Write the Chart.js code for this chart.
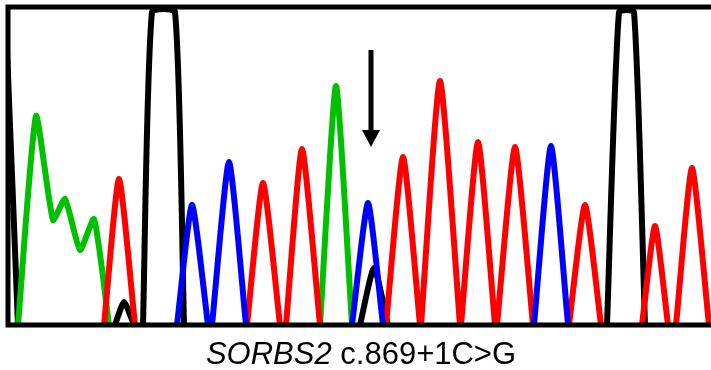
<!DOCTYPE html>
<html>
<head>
<meta charset="utf-8">
<script src="https://cdn.jsdelivr.net/npm/chart.js@4.4.0/dist/chart.umd.min.js"></script>
<style>
  html, body { margin: 0; padding: 0; background: #fff; }
  canvas { display: block; }
</style>
</head>
<body>
<canvas id="trace" width="711" height="370"></canvas>
<script>
// trace points: [position, signal], null = gap between peaks
const greenPts = [[18,0],[36,209],[53,105],[65,126],[80,75],[94,106],[109,0], null,
  [320,0],[336,239],[352,0]];
const blackPts = [[6,300],[18,0], null,
  [115,0],[124,23],[134,0], null,
  [143,0],[152,313],[175,313],[184,0], null,
  [360,0],[374,57],[388,0], null,
  [607,0],[619,313],[634,313],[645,0]];
const redPts = [[104,0],[119,146],[135,0], null,
  [247,0],[263,142],[280,0], null,
  [286,0],[302,176],[320,0], null,
  [386,0],[403,168],[420,0], null,
  [421,0],[440,244],[460,0], null,
  [461,0],[478,183],[495,0], null,
  [497,0],[515,178],[533,0], null,
  [569,0],[585,120],[601,0], null,
  [642,0],[655,99],[668,0], null,
  [676,0],[692,157],[709,0]];
const bluePts = [[177,0],[192,120],[208,0], null,
  [212,0],[229,163],[246,0], null,
  [352,0],[368,122],[383,0], null,
  [534,0],[551,179],[568,0]];

// arrow marking the variant: position, tail top, head start, tip, head half width
const arrow = { x: 371, top: 275, head: 195, tip: 178, half: 9 };
const captionGene = 'SORBS2';
const captionVar = ' c.869+1C>G';

const toXY = pts => pts.map(p => p ? { x: p[0], y: p[1] } : { x: null, y: null });

const trace = (pts, colour) => ({
  data: toXY(pts),
  borderColor: colour,
  borderWidth: 6,
  pointRadius: 0,
  tension: 0.18,
  spanGaps: false,
  borderJoinStyle: 'round',
  borderCapStyle: 'round',
  fill: false
});

const frameAndNotes = {
  id: 'frameAndNotes',
  afterDatasetsDraw(chart) {
    const { ctx, chartArea: a, scales: { x, y } } = chart;
    ctx.save();
    // box: top, left, bottom
    ctx.strokeStyle = '#000';
    ctx.lineWidth = 5;
    ctx.lineCap = 'square';
    ctx.beginPath();
    ctx.moveTo(a.right + 5, a.top);
    ctx.lineTo(a.left, a.top);
    ctx.lineTo(a.left, a.bottom);
    ctx.lineTo(a.right + 5, a.bottom);
    ctx.stroke();

    // arrow
    const ax = x.getPixelForValue(arrow.x);
    ctx.lineWidth = 5;
    ctx.lineCap = 'butt';
    ctx.beginPath();
    ctx.moveTo(ax, y.getPixelForValue(arrow.top));
    ctx.lineTo(ax, y.getPixelForValue(arrow.head) + 1);
    ctx.stroke();
    const hw = x.getPixelForValue(arrow.x + arrow.half) - ax;
    ctx.fillStyle = '#000';
    ctx.beginPath();
    ctx.moveTo(ax - hw, y.getPixelForValue(arrow.head));
    ctx.lineTo(ax + hw, y.getPixelForValue(arrow.head));
    ctx.lineTo(ax, y.getPixelForValue(arrow.tip));
    ctx.closePath();
    ctx.fill();

    // caption
    const fItal = 'italic 31px "Liberation Sans", Arial, sans-serif';
    const fNorm = '31px "Liberation Sans", Arial, sans-serif';
    ctx.font = fItal;
    const w1 = ctx.measureText(captionGene).width;
    ctx.font = fNorm;
    const w2 = ctx.measureText(captionVar).width;
    const cx = 361, by = 364;
    const sx = cx - (w1 + w2) / 2;
    ctx.textBaseline = 'alphabetic';
    ctx.textAlign = 'left';
    ctx.fillStyle = '#000';
    ctx.font = fItal;
    ctx.fillText(captionGene, sx, by);
    ctx.font = fNorm;
    ctx.fillText(captionVar, sx + w1, by);
    ctx.restore();
  }
};

new Chart(document.getElementById('trace'), {
  type: 'line',
  data: {
    datasets: [
      trace(bluePts, '#0000ff'),
      trace(redPts, '#ff0000'),
      trace(greenPts, '#00c000'),
      trace(blackPts, '#000000')
    ]
  },
  options: {
    responsive: false,
    animation: false,
    events: [],
    layout: { padding: { left: 8, top: 7, right: 0, bottom: 45 } },
    scales: {
      x: { type: 'linear', min: 8, max: 711, display: false },
      y: { type: 'linear', min: 0, max: 318, display: false }
    },
    plugins: { legend: { display: false }, tooltip: { enabled: false } }
  },
  plugins: [frameAndNotes]
});
</script>
</body>
</html>
